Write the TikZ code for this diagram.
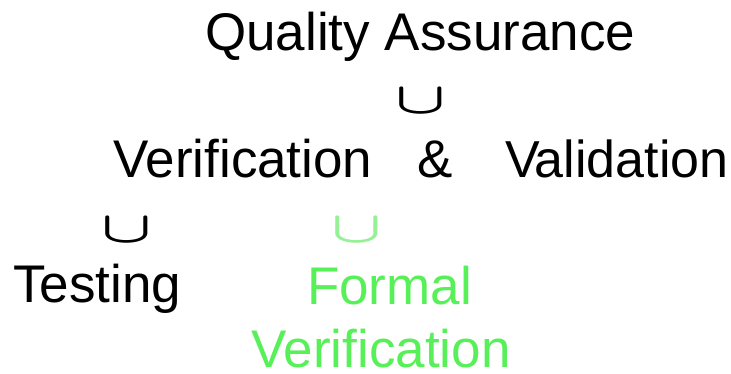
\documentclass[tikz,border=0pt]{standalone}
\usepackage{graphicx}
\usepackage{fontspec}
\setmainfont{Liberation Sans}
\definecolor{fvgreen}{RGB}{88,240,88}
\definecolor{cupgreen}{RGB}{150,240,150}
\newcommand{\unionsym}{\scalebox{6.6}[4.4]{\boldmath$\cup$}}
\begin{document}
\begin{tikzpicture}[x=1pt,y=-1pt,
  lbl/.style={inner sep=0pt, anchor=base west, font=\fontsize{53}{63}\selectfont},
  cupsym/.style={inner sep=0pt, anchor=base}]
\useasboundingbox (0,0) rectangle (731,374);
\node[lbl] (qa) at (205,51) {Quality Assurance};
\node[cupsym] (c1) at (421,114) {\unionsym};
\node[lbl] (ver) at (113,178) {Verification};
\node[lbl] (amp) at (417,178) {\&};
\node[lbl, font=\fontsize{52}{63}\selectfont] (val) at (505,178) {V\kern-5pt alidation};
\node[cupsym] (c2) at (126.5,243) {\unionsym};
\node[cupsym, text=cupgreen] (c3) at (357,243) {\unionsym};
\node[lbl] (test) at (13,302) {Testing};
\node[inner sep=0pt, anchor=north, align=center, text=fvgreen,
  font=\fontsize{53}{63}\selectfont] (fv) at (389.5,266) {Formal\\Verification\hspace*{17pt}};
\end{tikzpicture}
\end{document}
